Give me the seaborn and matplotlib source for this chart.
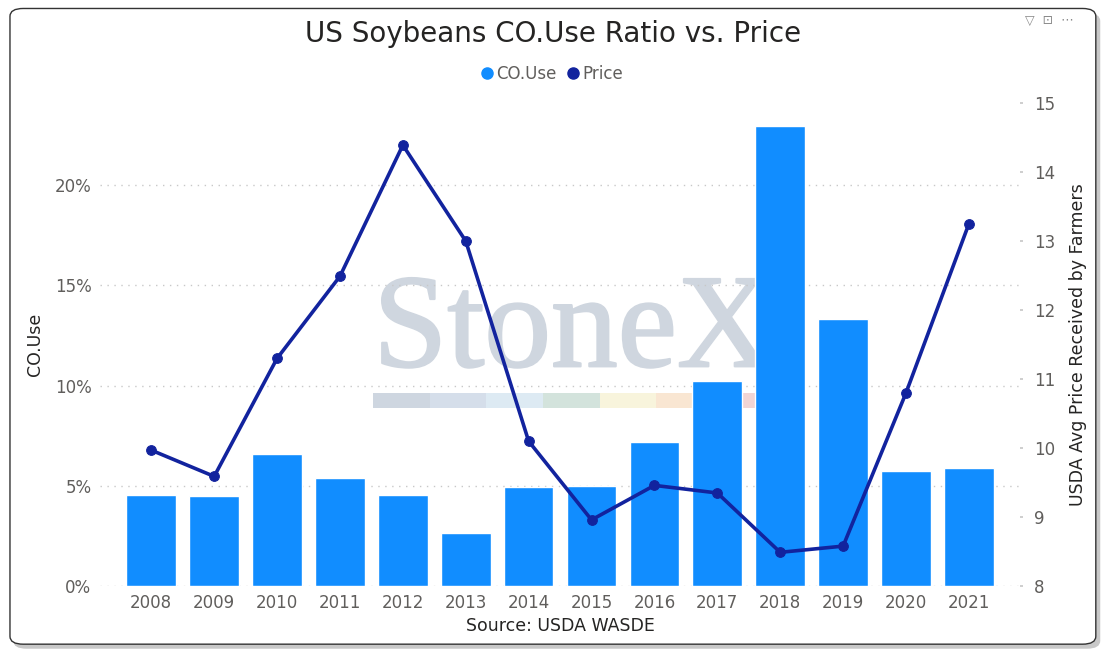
import numpy as np
import pandas as pd
import matplotlib
matplotlib.use("Agg")
import matplotlib.pyplot as plt
import matplotlib.patheffects as pe
from matplotlib.patches import FancyBboxPatch, Rectangle
from matplotlib.ticker import FuncFormatter, MultipleLocator
import seaborn as sns

# data
years = ["2008", "2009", "2010", "2011", "2012", "2013", "2014",
         "2015", "2016", "2017", "2018", "2019", "2020", "2021"]
co_use = [4.54, 4.49, 6.58, 5.39, 4.54, 2.64, 4.94,
          4.99, 7.18, 10.22, 22.94, 13.32, 5.74, 5.89]   # percent
price = [9.97, 9.59, 11.30, 12.49, 14.39, 13.00, 10.10,
         8.96, 9.46, 9.35, 8.49, 8.58, 10.80, 13.25]

BAR = "#118DFF"
LINE = "#12239E"
TXT = "#605E5C"

df = pd.DataFrame({"year": years, "co_use": co_use, "price": price})
df["pos"] = np.arange(len(df))

sns.set_theme(style="white")
plt.rcParams["font.family"] = ["DejaVu Sans"]

fig = plt.figure(figsize=(11.08, 6.52), dpi=100)

# card frame with a soft shadow
shadow = FancyBboxPatch((0.012, 0.005), 0.981, 0.975, boxstyle="round,pad=0,rounding_size=0.012",
                        transform=fig.transFigure, facecolor="#c8c8c8", edgecolor="none", zorder=-3)
card = FancyBboxPatch((0.009, 0.012), 0.980, 0.975, boxstyle="round,pad=0,rounding_size=0.012",
                      transform=fig.transFigure, facecolor="white", edgecolor="#333333",
                      linewidth=1.0, zorder=-2)
fig.patches.extend([shadow, card])

ax = fig.add_axes([0.090, 0.101, 0.831, 0.741])
ax.patch.set_alpha(0)

# watermark
wm = ax.text(0.297, 0.455, "StoneX", transform=ax.transAxes, ha="left", va="baseline",
             fontsize=96, family="Liberation Serif", color="#CFD6DF", zorder=0.5)
wm.set_path_effects([pe.withStroke(linewidth=1.6, foreground="#CFD6DF")])
strip = ["#CED6E0", "#D5DEEA", "#DDEAF3", "#D3E3DC", "#F8F4DC", "#F9E6D2", "#F1D5D5"]
for i, c in enumerate(strip):
    ax.add_patch(Rectangle((0.297 + i * 0.0615, 0.368), 0.0615, 0.031, transform=ax.transAxes,
                           facecolor=c, edgecolor="none", zorder=0.5))

sns.barplot(data=df, x="year", y="co_use", color=BAR, width=0.79, saturation=1,
            ax=ax, zorder=2)
ax.set_ylim(0, 24.1)
ax.set_xlim(-0.82, len(years) - 0.18)
ax.yaxis.set_major_locator(MultipleLocator(5))
ax.yaxis.set_major_formatter(FuncFormatter(lambda v, p: f"{v:.0f}%"))
ax.grid(axis="y", color="#C8C8C8", linestyle=(0, (1, 4)), linewidth=1.0, zorder=0)
ax.set_axisbelow(True)
for s in ax.spines.values():
    s.set_visible(False)
ax.tick_params(axis="both", length=0, labelsize=12, labelcolor=TXT, pad=6)
ax.set_ylabel("CO.Use", fontsize=12.5, color="#252423", labelpad=8)
ax.set_xlabel("Source: USDA WASDE", fontsize=12.5, color="#252423", labelpad=3)

ax2 = ax.twinx()
sns.lineplot(data=df, x="pos", y="price", color=LINE, linewidth=2.6, marker="o",
             markersize=7, markeredgecolor=LINE, ax=ax2, zorder=3)
ax2.set_ylim(8, 15)
ax2.yaxis.set_major_locator(MultipleLocator(1))
for s in ax2.spines.values():
    s.set_visible(False)
ax2.tick_params(axis="y", length=2, color="#C8C8C8", labelsize=12, labelcolor=TXT, pad=8)
ax2.set_ylabel("USDA Avg Price Received by Farmers", fontsize=12.5, color="#252423", labelpad=10)
ax2.grid(False)

fig.text(0.499, 0.948, "US Soybeans CO.Use Ratio vs. Price", ha="center", va="center",
         fontsize=20, color="#252423")

# legend
handles = [plt.Line2D([], [], marker="o", linestyle="none", color=BAR, markersize=8),
           plt.Line2D([], [], marker="o", linestyle="none", color=LINE, markersize=8)]
leg = fig.legend(handles, ["CO.Use", "Price"], loc="center", bbox_to_anchor=(0.497, 0.886),
                 ncol=2, frameon=False, fontsize=12, handletextpad=0.05, columnspacing=0.5,
                 handlelength=1.0)
for t in leg.get_texts():
    t.set_color(TXT)

# visual header icons (filter / focus / more)
fig.text(0.925, 0.968, "\u25bd  \u22a1  \u22ef", ha="left", va="center", fontsize=9, color="#8a8a8a")

fig.savefig("out.png", dpi=100)
